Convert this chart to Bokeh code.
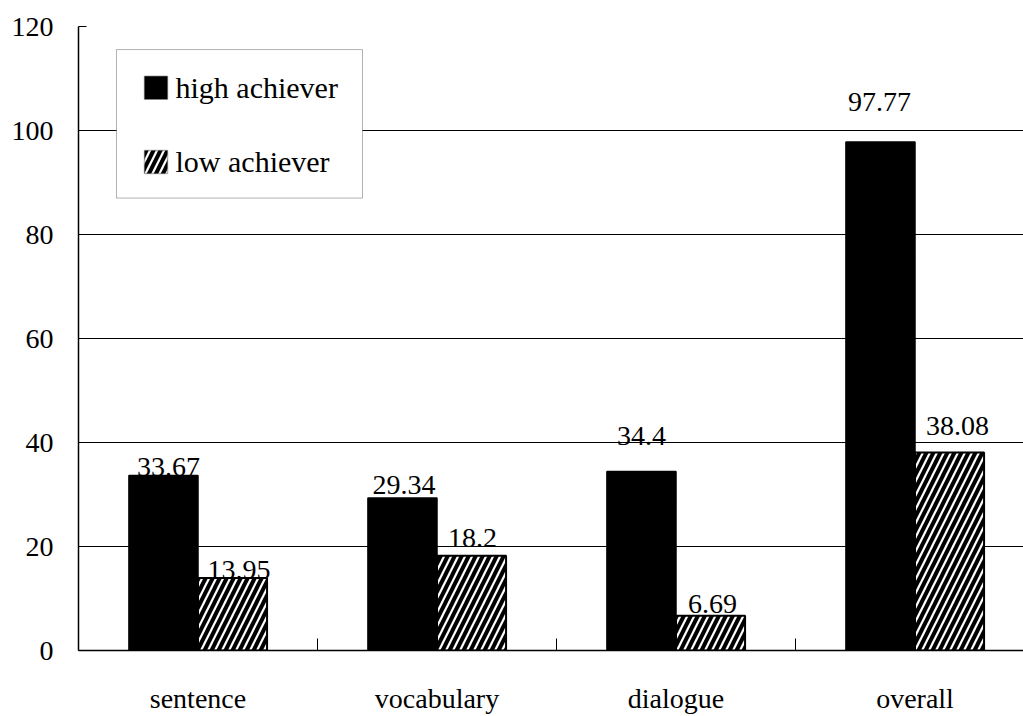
from bokeh.plotting import figure
from bokeh.models import (Range1d, FixedTicker, ColumnDataSource, BoxAnnotation, Label)
from bokeh.core.properties import value
from bokeh.embed import file_html
from bokeh.resources import INLINE

# ---- data ----
categories = ["sentence", "vocabulary", "dialogue", "overall"]
high_achiever = [33.67, 29.34, 34.4, 97.77]
low_achiever = [13.95, 18.2, 6.69, 38.08]
high_labels = ["33.67", "29.34", "34.4", "97.77"]
low_labels = ["13.95", "18.2", "6.69", "38.08"]
series_names = ["high achiever", "low achiever"]
y_ticks = [0, 20, 40, 60, 80, 100, 120]

# ---- layout tweaks: pixel offsets of the value labels, as placed in the original ----
high_dx = [5, 1.5, 0, -1]
high_gap = [2, 7, 30, 34]
low_dx = [6.5, 1, 2, 8]
low_gap = [2, 12, 6, 20]
DESCENT = 3

FONT_X = "Liberation Serif"
FONT_Y = "Times"
FONT_VAL = "Tinos"
FONT_LEG = "Nimbus Roman"
bar_w = 0.289
n = len(categories)
centers = [i + 0.5 for i in range(n)]

# frame geometry (pixels) used to place the legend box
W, H = 1023, 716
FL, FT, FB = 78, 28, 650
X_END = (W - FL) / 239.0
def dx_(px):
    return (px - FL) / 239.0
def dy_(py):
    return (FB - py) * 120.0 / (FB - FT)

src_high = ColumnDataSource(dict(
    x=[c - bar_w / 2 for c in centers], top=high_achiever, lab=high_labels,
    dx=high_dx, dy=[DESCENT - g for g in high_gap]))
src_low = ColumnDataSource(dict(
    x=[c + bar_w / 2 for c in centers], top=low_achiever, lab=low_labels,
    dx=low_dx, dy=[DESCENT - g for g in low_gap]))

p = figure(width=W, height=H, output_backend="svg", toolbar_location=None,
           x_range=Range1d(0, X_END), y_range=Range1d(0, 120),
           min_border_left=FL, min_border_right=0, min_border_top=26, min_border_bottom=58)
p.outline_line_color = None

r_high = p.vbar(x="x", top="top", width=bar_w, bottom=0, source=src_high,
                fill_color="black", line_color="black", line_width=1.5)
r_low = p.vbar(x="x", top="top", width=bar_w, bottom=0, source=src_low,
               fill_color="white", line_color="black", line_width=2,
               hatch_pattern="right_diagonal_line", hatch_color="black",
               hatch_scale=14, hatch_weight=4)

for src in (src_high, src_low):
    p.text(x="x", y="top", text="lab", source=src, x_offset="dx", y_offset="dy",
           text_align="center", text_baseline="bottom",
           text_font=value(FONT_VAL), text_font_size="28px", text_color="black")

# axes
xa = p.xaxis[0]
xa.ticker = FixedTicker(ticks=centers, minor_ticks=[i for i in range(1, n)])
xa.major_label_overrides = {c: lab for c, lab in zip(centers, categories)}
xa.major_tick_line_color = None
xa.minor_tick_in = 12
xa.minor_tick_out = 0
xa.minor_tick_line_color = "black"
xa.axis_line_color = "black"
xa.axis_line_width = 1.5
xa.major_label_standoff = 26
xa.major_label_text_font = FONT_X
xa.major_label_text_font_size = "28px"
xa.major_label_text_color = "black"

ya = p.yaxis[0]
ya.ticker = FixedTicker(ticks=y_ticks)
ya.major_tick_in = 8
ya.major_tick_out = 0
ya.minor_tick_line_color = None
ya.axis_line_color = "black"
ya.axis_line_width = 1.5
ya.major_label_standoff = 25
ya.major_label_text_font = FONT_Y
ya.major_label_text_font_size = "28px"
ya.major_label_text_color = "black"

p.xgrid.grid_line_color = None
p.ygrid.ticker = FixedTicker(ticks=y_ticks)
p.ygrid.grid_line_color = "black"
p.ygrid.grid_line_width = 1

# legend, drawn as annotations
p.add_layout(BoxAnnotation(left=dx_(116), right=dx_(362), top=dy_(51), bottom=dy_(199),
                           fill_color="white", fill_alpha=1, line_color="black",
                           line_width=1, level="annotation"))
swatch_styles = [dict(fill_color="black", fill_alpha=1),
                 dict(fill_color="white", fill_alpha=1, hatch_pattern="right_diagonal_line",
                      hatch_color="black", hatch_scale=14, hatch_weight=4)]
row_py = [89, 163]
for name, style, py in zip(series_names, swatch_styles, row_py):
    p.add_layout(BoxAnnotation(left=dx_(144), right=dx_(167), top=dy_(py - 11.5),
                               bottom=dy_(py + 11.5), line_color="black", line_width=1.5,
                               level="annotation", **style))
    p.add_layout(Label(x=dx_(175), y=dy_(py), text=name, text_baseline="middle",
                       text_align="left", text_font=FONT_LEG, text_font_size="30px",
                       text_color="black"))

open("out.html", "w").write(file_html(p, INLINE))
